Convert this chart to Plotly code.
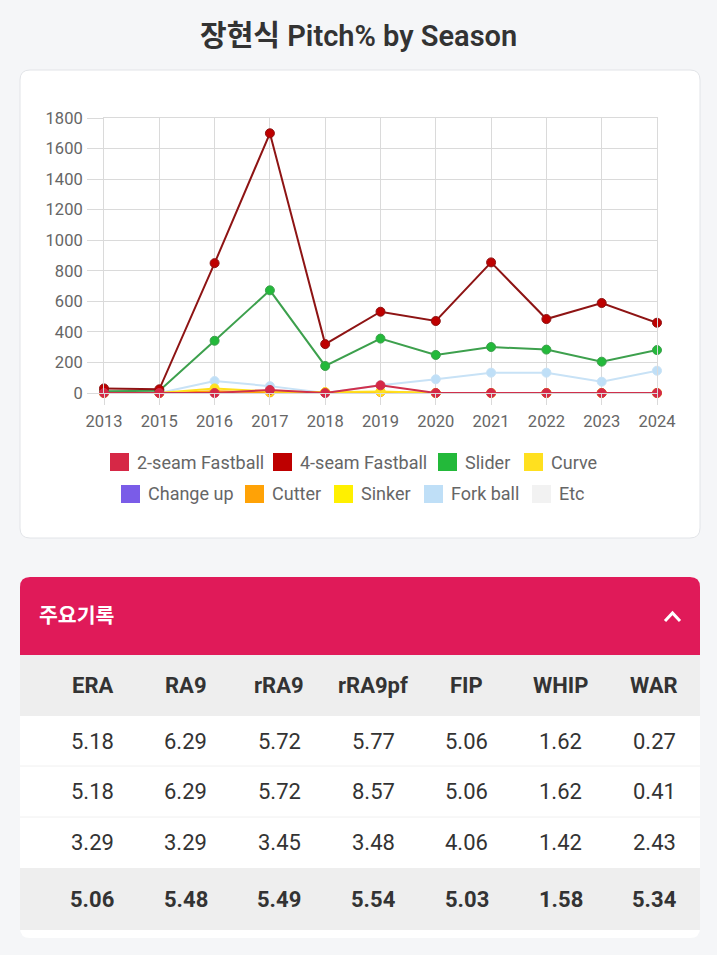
#### Import Modules ####
import plotly.graph_objects as go


#### Data ####
title_text = "장현식 Pitch% by Season"
seasons = ["2013", "2015", "2016", "2017", "2018", "2019", "2020", "2021", "2022", "2023", "2024"]

pitch_names = ["2-seam Fastball", "4-seam Fastball", "Slider", "Curve",
               "Change up", "Cutter", "Sinker", "Fork ball", "Etc"]
two_seam = [0, 0, 0, 20, 0, 50, 0, 0, 0, 0, 0]
four_seam = [30, 24, 850, 1700, 320, 532, 471, 855, 484, 589, 460]
slider = [12, 15, 342, 672, 177, 356, 249, 301, 284, 205, 281]
curve = [0, 0, 30, 10, 5, 10, 0, 0, 0, 0, 0]
change_up = [None] * 11  # not thrown
cutter = [0, 0, 12, 4, 5, 6, 0, 0, 0, 0, 0]
sinker = [None] * 11  # not thrown
fork_ball = [0, 0, 78, 45, 0, 50, 90, 133, 133, 74, 146]
etc = [None] * 11  # not thrown

table_title = "주요기록"
stat_columns = ["ERA", "RA9", "rRA9", "rRA9pf", "FIP", "WHIP", "WAR"]
stat_row_1 = ["5.18", "6.29", "5.72", "5.77", "5.06", "1.62", "0.27"]
stat_row_2 = ["5.18", "6.29", "5.72", "8.57", "5.06", "1.62", "0.41"]
stat_row_3 = ["3.29", "3.29", "3.45", "3.48", "4.06", "1.42", "2.43"]
stat_total = ["5.06", "5.48", "5.49", "5.54", "5.03", "1.58", "5.34"]


#### Global Objects ####
W, H = 717, 955
PAGE_BG = "#F5F6F8"
FONT = "Roboto, 'Noto Sans CJK KR', sans-serif"
GRID = "#DADADA"

series = [two_seam, four_seam, slider, curve, change_up, cutter, sinker, fork_ball, etc]
fill_colors = ["#D62846", "#BE0000", "#23B93A", "#FFE01F",
               "#7A5CE8", "#FFA206", "#FFF000", "#BFDFF7", "#F2F2F2"]
line_colors = ["#D0304C", "#8E1414", "#3DA04D", "#FFE01F",
               "#7A5CE8", "#FFA206", "#FFF000", "#C8E2F6", "#F2F2F2"]


#### Define Functions ####
def px(x):
    return x / W


def py(y):
    return 1 - y / H


def rounded_path(x0, y0, x1, y1, r, top=True, bottom=True):
    rt = r if top else 0
    rb = r if bottom else 0
    pts = [
        f"M{px(x0 + rt)},{py(y0)}",
        f"L{px(x1 - rt)},{py(y0)}",
        f"Q{px(x1)},{py(y0)} {px(x1)},{py(y0 + rt)}",
        f"L{px(x1)},{py(y1 - rb)}",
        f"Q{px(x1)},{py(y1)} {px(x1 - rb)},{py(y1)}",
        f"L{px(x0 + rb)},{py(y1)}",
        f"Q{px(x0)},{py(y1)} {px(x0)},{py(y1 - rb)}",
        f"L{px(x0)},{py(y0 + rt)}",
        f"Q{px(x0)},{py(y0)} {px(x0 + rt)},{py(y0)}",
        "Z",
    ]
    return " ".join(pts)


def build_plot():
    fig = go.Figure()

    # Chart.js style: first dataset drawn on top, so add in reverse
    for i in reversed(range(len(series))):
        fig.add_trace(go.Scatter(
            x=seasons, y=series[i], name=pitch_names[i],
            mode="lines+markers", cliponaxis=False, showlegend=False,
            line=dict(color=line_colors[i], width=2),
            marker=dict(size=9, color=fill_colors[i],
                        line=dict(color=line_colors[i], width=1)),
        ))

    shapes = []
    annotations = []

    # chart card
    shapes.append(dict(type="path", path=rounded_path(20, 70, 700, 538, 10),
                       xref="paper", yref="paper", fillcolor="white",
                       line=dict(color="#E2E4E8", width=1), layer="below"))

    # custom legend (boxes + labels)
    legend_pos = [(110, 462), (273, 462), (438, 462), (524, 462),
                  (121, 494), (245, 494), (334, 494), (424, 494), (532, 494)]
    for name, col, (lx, ly) in zip(pitch_names, fill_colors, legend_pos):
        shapes.append(dict(type="rect", xref="paper", yref="paper",
                           x0=px(lx), x1=px(lx + 19), y0=py(ly - 9), y1=py(ly + 9),
                           fillcolor=col, line=dict(width=0)))
        annotations.append(dict(text=name, x=px(lx + 25), y=py(ly), xref="paper", yref="paper",
                                xanchor="left", yanchor="middle", showarrow=False,
                                font=dict(family=FONT, size=18, color="#666666")))

    # title
    annotations.append(dict(text=title_text, x=0.5, y=py(36), xref="paper", yref="paper",
                            xanchor="center", yanchor="middle", showarrow=False,
                            font=dict(family=FONT, size=29, weight=600, color="#333333")))

    # table card
    shapes.append(dict(type="path", path=rounded_path(20, 577, 700, 938, 10),
                       xref="paper", yref="paper", fillcolor="white",
                       line=dict(width=0), layer="below"))
    shapes.append(dict(type="path", path=rounded_path(20, 577, 700, 655, 10, bottom=False),
                       xref="paper", yref="paper", fillcolor="#E01A59",
                       line=dict(width=0), layer="below"))
    annotations.append(dict(text=f"<b>{table_title}</b>", x=px(37), y=py(616), xref="paper", yref="paper",
                            xanchor="left", yanchor="middle", showarrow=False,
                            font=dict(family=FONT, size=20.5, color="white")))
    shapes.append(dict(type="path", xref="paper", yref="paper",
                       path=f"M{px(665)},{py(621)} L{px(672.5)},{py(613)} L{px(680)},{py(621)}",
                       line=dict(color="white", width=3)))

    # table header row and total row backgrounds
    shapes.append(dict(type="rect", xref="paper", yref="paper", x0=px(20), x1=px(700),
                       y0=py(716), y1=py(655), fillcolor="#EEEEEE", line=dict(width=0), layer="below"))
    shapes.append(dict(type="rect", xref="paper", yref="paper", x0=px(20), x1=px(700),
                       y0=py(930), y1=py(868), fillcolor="#EEEEEE", line=dict(width=0), layer="below"))
    for sep in [766, 817]:
        shapes.append(dict(type="line", xref="paper", yref="paper", x0=px(20), x1=px(700),
                           y0=py(sep), y1=py(sep), line=dict(color="#F0F0F0", width=1), layer="below"))

    col_x = [92 + 93.7 * j for j in range(len(stat_columns))]
    for j, head in enumerate(stat_columns):
        annotations.append(dict(text=f"<b>{head}</b>", x=px(col_x[j]), y=py(685), xref="paper", yref="paper",
                                xanchor="center", yanchor="middle", showarrow=False,
                                font=dict(family=FONT, size=22, color="#333333")))
    body_rows = [(stat_row_1, 741, False), (stat_row_2, 791, False),
                 (stat_row_3, 842, False), (stat_total, 899, True)]
    for row, ry, bold in body_rows:
        for j, val in enumerate(row):
            annotations.append(dict(text=f"<b>{val}</b>" if bold else val,
                                    x=px(col_x[j]), y=py(ry), xref="paper", yref="paper",
                                    xanchor="center", yanchor="middle", showarrow=False,
                                    font=dict(family=FONT, size=22, color="#333333")))

    fig.update_layout(
        width=W, height=H, autosize=False,
        margin=dict(l=0, r=0, t=0, b=0, pad=0),
        paper_bgcolor=PAGE_BG,
        plot_bgcolor="rgba(0,0,0,0)",
        showlegend=False,
        shapes=shapes,
        annotations=annotations,
        xaxis=dict(type="category", domain=[px(104), px(657)], range=[0, len(seasons) - 1],
                   automargin=False,
                   showgrid=True, gridcolor=GRID, gridwidth=1,
                   showline=True, linecolor=GRID, mirror=True, zeroline=False,
                   ticks="outside", ticklen=11, tickcolor=GRID, ticklabelstandoff=2,
                   tickfont=dict(family=FONT, size=16.5, color="#666666")),
        yaxis=dict(domain=[py(393), py(118)], range=[0, 1800], dtick=200, tickformat="d",
                   automargin=False,
                   showgrid=True, gridcolor=GRID, gridwidth=1,
                   showline=True, linecolor=GRID, mirror=True, zeroline=False,
                   ticks="outside", ticklen=16, tickcolor=GRID, ticklabelstandoff=1,
                   tickfont=dict(family=FONT, size=16.5, color="#666666")),
    )
    return fig


#### Main Actions ####
if __name__ == "__main__":
    fig = build_plot()
    fig.write_html("out.html", config={"responsive": False, "displayModeBar": False},
                   post_script="document.body.style.margin='0';")
